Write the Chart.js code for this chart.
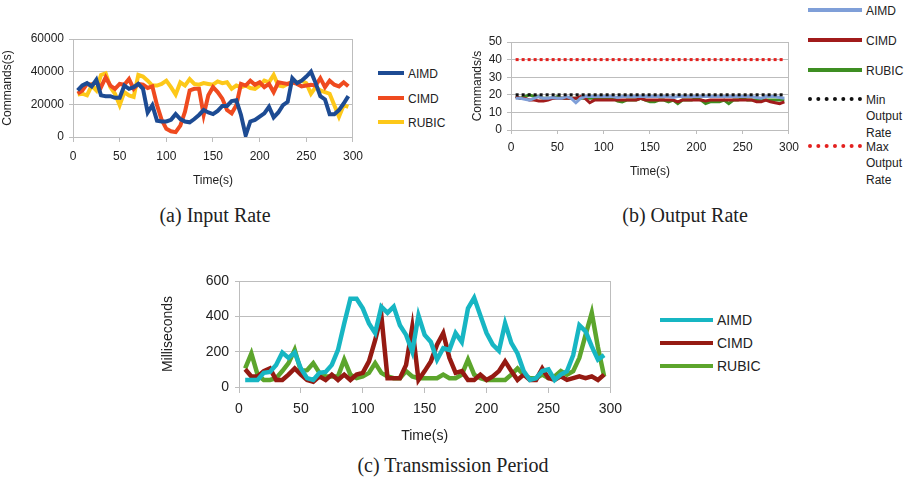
<!DOCTYPE html>
<html>
<head>
<meta charset="utf-8">
<script src="https://cdn.jsdelivr.net/npm/chart.js@4.4.1/dist/chart.umd.min.js"></script>
<style>
  body { margin: 0; background: #fff; }
  #page { position: relative; width: 905px; height: 487px; overflow: hidden; font-family: "Liberation Sans", Arial, sans-serif; color: #222; }
  canvas { position: absolute; }
  .lg { position: absolute; font-size: 12px; line-height: 16px; }
  .sw { position: absolute; }
  .cap { position: absolute; font-family: "Liberation Serif", "DejaVu Serif", serif; font-size: 20px; transform: translateX(-50%); white-space: nowrap; }
</style>
</head>
<body>
<div id="page">
  <canvas id="chartA" style="left:0px;top:0px" width="370" height="190"></canvas>
  <canvas id="chartB" style="left:470px;top:0px" width="335" height="181"></canvas>
  <canvas id="chartC" style="left:160px;top:265px" width="470" height="185"></canvas>
  <div id="legends"></div>
  <div class="cap" style="left:215px;top:204px">(a) Input Rate</div>
  <div class="cap" style="left:685px;top:204px">(b) Output Rate</div>
  <div class="cap" style="left:453px;top:454px">(c) Transmission Period</div>
</div>
<script>
// time axis, every 5 seconds
const timeSec = [5,10,15,20,25,30,35,40,45,50,55,60,65,70,75,80,85,90,95,100,
  105,110,115,120,125,130,135,140,145,150,155,160,165,170,175,180,185,190,195,200,
  205,210,215,220,225,230,235,240,245,250,255,260,265,270,275,280,285,290,295];

// (a) input rate, commands/s
const inAimd = [28600,31600,33000,31000,35000,25500,25000,25000,24000,24000,31500,29500,30500,32500,29500,15000,19500,10000,9500,9500,
  10500,14000,11000,9500,9000,11000,13500,16500,15000,14000,16000,19000,19000,22000,22500,13500,1000,9500,10500,12500,
  14500,18500,12000,15000,19500,21500,36000,33000,34500,37000,40000,33000,25000,23000,14000,14000,16500,20500,25000];
const inCimd = [26500,28500,32500,32000,33500,30500,36500,31500,29500,32500,32000,35500,29500,32500,32000,30000,31000,19500,10500,5000,
  3500,3000,7000,15500,28500,29500,29500,13500,25500,30500,27500,23500,16500,14500,19500,32500,31500,34500,32000,33500,
  30500,32500,27500,33500,33000,32500,33500,32500,31000,31500,32000,31500,36000,30500,34500,32000,31000,33500,31000];
const inRubic = [26000,26500,25500,31500,28500,38000,39000,30500,26500,19500,27500,25500,24500,38000,37000,34500,31500,31500,32500,34500,
  30500,26000,33500,31500,35500,32500,32000,33000,32500,32000,34000,33000,33500,29500,31500,30500,31500,30000,29500,31500,
  34500,33500,38000,31500,31000,32500,33500,33000,34500,33000,26500,30500,28500,27500,26500,19500,12500,19500,18500];

// (b) output rate, commands/s
const outAimd = [18,18,17.5,17,18,19,18,18,18.5,18,18,19,18,15.5,18,19,19,19,19,19,
  19,19,18.5,19,19,19,19,19,19,19,19,19,19,19,18.5,19,19,19,19,19,
  19,19,19,19,19,19,19,19,19,19,19,19,18.5,18,19,19,19,18.5,18];
const outCimd = [19,18,18,17,17,16.5,16.5,17,18,18,18,18,18,18,19,18,15.5,17,17,17,
  17,17,17,17,17,17,17,18,17,17,17,17,17,17,17,16,17,17,17,17,
  17,16.5,17,17,17,17,17,17,17,17,17,17,16,16,17,16,15.5,15,16];
const outRubic = [19,18,19,20,19,19,18,18,18,19,18,18,18,18,18,18,18,18,18,18,
  18,18,16.5,16,17,17,17,18,17,16,16,17,17,16,17,15,17,17,17,18,
  17,15,16,16,16,17,15,17,17,18,17,17,17,17,17,17,17,17,17];
const limitTime = [5, 295];
const outMin = [20, 20];
const outMax = [40, 40];

// (c) transmission period, ms
const perAimd = [40,40,40,80,85,125,195,165,195,105,50,40,80,85,125,210,360,500,500,445,
  360,305,455,420,455,350,295,200,405,295,255,155,220,210,305,255,445,505,405,305,
  240,205,360,250,190,90,40,50,90,100,40,70,90,180,350,315,230,155,180];
const perCimd = [100,60,60,90,105,40,40,70,105,70,40,30,60,40,70,40,70,40,70,80,
  145,265,405,50,50,50,125,340,40,90,145,240,305,165,80,90,40,40,70,40,
  60,90,145,90,40,70,40,40,105,50,40,60,40,50,60,50,60,40,70];
const perRubic = [105,190,70,40,40,50,90,135,210,90,95,135,80,60,60,60,155,70,50,60,
  80,135,80,60,50,50,90,60,50,50,50,50,70,50,50,70,155,70,50,40,
  40,40,40,70,105,70,50,50,70,50,60,90,70,90,165,295,420,225,60];

const tickFont = { family: '"Liberation Sans", Arial, sans-serif', size: 12 };
const tickColor = '#222';
const gridColor = '#bdbdbd';

function pts(xs, ys) {
  return ys.map((y, i) => ({ x: xs[i], y: y }));
}

function line(label, xs, ys, color, width, extra) {
  return Object.assign({
    label: label,
    data: pts(xs, ys),
    borderColor: color,
    backgroundColor: color,
    borderWidth: width,
    pointRadius: 0,
    tension: 0,
    fill: false
  }, extra || {});
}

function makeChart(id, datasets, o) {
  const font = Object.assign({}, tickFont, { size: o.fontSize });
  new Chart(document.getElementById(id), {
    type: 'line',
    data: { datasets: datasets },
    options: {
      responsive: false,
      animation: false,
      layout: { padding: { top: o.top, right: o.right, bottom: 0, left: 0 } },
      plugins: { legend: { display: false }, tooltip: { enabled: false } },
      scales: {
        x: {
          type: 'linear', min: 0, max: 300,
          afterFit: s => { s.height = o.xh; },
          ticks: { stepSize: 50, font: font, color: tickColor, padding: o.xpad, maxRotation: 0 },
          grid: { drawOnChartArea: false, color: gridColor, tickLength: o.xtick },
          border: { color: gridColor },
          title: { display: true, text: 'Time(s)', font: font, color: tickColor, padding: { top: 0, bottom: o.tpad } }
        },
        y: {
          min: 0, max: o.ymax,
          afterFit: s => { s.width = o.yw; },
          ticks: { stepSize: o.ystep, font: font, color: tickColor, padding: o.ypad, callback: v => String(v) },
          grid: { color: gridColor, tickLength: 4 },
          border: { color: gridColor },
          title: { display: true, text: o.ytitle, font: font, color: tickColor, padding: { top: 0, bottom: 0 } }
        },
        y2: {
          position: 'right', min: 0, max: o.ymax,
          afterFit: s => { s.width = 0; },
          ticks: { display: false },
          grid: { drawOnChartArea: false, drawTicks: false },
          border: { color: gridColor }
        }
      }
    }
  });
}

makeChart('chartA', [
  line('AIMD', timeSec, inAimd, '#1d4b93', 4),
  line('CIMD', timeSec, inCimd, '#ef4a1f', 4),
  line('RUBIC', timeSec, inRubic, '#fdc819', 4)
], { top: 39, right: 15, xh: 53, yw: 73, ymax: 60000, ystep: 20000, ytitle: 'Commands(s)',
     fontSize: 12, xpad: 7, xtick: 5, ypad: 5, tpad: 2 });

makeChart('chartB', [
  line('Min Output Rate', limitTime, outMin, '#111', 3, { borderDash: [3, 3], order: 0 }),
  line('Max Output Rate', limitTime, outMax, '#e3211f', 3, { borderDash: [3, 3], order: 0 }),
  line('AIMD', timeSec, outAimd, '#7f9fd8', 3, { order: 1 }),
  line('CIMD', timeSec, outCimd, '#a11b1b', 3, { order: 2 }),
  line('RUBIC', timeSec, outRubic, '#3e8e22', 3, { order: 3 })
], { top: 42, right: 15, xh: 51, yw: 41, ymax: 50, ystep: 10, ytitle: 'Commands/s',
     fontSize: 12, xpad: 6, xtick: 4, ypad: 5, tpad: 2 });

makeChart('chartC', [
  line('AIMD', timeSec, perAimd, '#17b6c3', 4.5),
  line('CIMD', timeSec, perCimd, '#951a12', 4.5),
  line('RUBIC', timeSec, perRubic, '#5ca52c', 4.5)
], { top: 16, right: 15, xh: 63, yw: 79, ymax: 600, ystep: 200, ytitle: 'Milliseconds',
     fontSize: 14, xpad: 8, xtick: 6, ypad: 6, tpad: 5 });

// legends
const legendItems = [
  { x: 378, y: 73, w: 26, label: ['AIMD'], color: '#1d4b93', fs: 12 },
  { x: 378, y: 98, w: 26, label: ['CIMD'], color: '#ef4a1f', fs: 12 },
  { x: 378, y: 122, w: 26, label: ['RUBIC'], color: '#fdc819', fs: 12 },
  { x: 808, y: 10, w: 54, label: ['AIMD'], color: '#7f9fd8', fs: 12 },
  { x: 808, y: 40, w: 54, label: ['CIMD'], color: '#a11b1b', fs: 12 },
  { x: 808, y: 70, w: 54, label: ['RUBIC'], color: '#3e8e22', fs: 12 },
  { x: 808, y: 99, w: 54, label: ['Min', 'Output', 'Rate'], color: '#111', fs: 12, dot: true },
  { x: 808, y: 146, w: 54, label: ['Max', 'Output', 'Rate'], color: '#e3211f', fs: 12, dot: true },
  { x: 660, y: 320, w: 53, label: ['AIMD'], color: '#17b6c3', fs: 14 },
  { x: 660, y: 343, w: 53, label: ['CIMD'], color: '#951a12', fs: 14 },
  { x: 660, y: 366, w: 53, label: ['RUBIC'], color: '#5ca52c', fs: 14 }
];
const lg = document.getElementById('legends');
legendItems.forEach(it => {
  const sw = document.createElement('div');
  sw.className = 'sw';
  sw.style.left = it.x + 'px';
  sw.style.width = it.w + 'px';
  sw.style.top = (it.y - 2) + 'px';
  if (it.dot) {
    sw.style.borderTop = '4px dotted ' + it.color;
  } else {
    sw.style.height = '4px';
    sw.style.background = it.color;
  }
  lg.appendChild(sw);
  const t = document.createElement('div');
  t.className = 'lg';
  t.style.left = (it.x + it.w + 4) + 'px';
  t.style.top = (it.y - it.fs * 0.6) + 'px';
  t.style.fontSize = it.fs + 'px';
  t.style.lineHeight = (it.fs === 12 ? 16.5 : 17) + 'px';
  t.innerHTML = it.label.join('<br>');
  lg.appendChild(t);
});
</script>
</body>
</html>
